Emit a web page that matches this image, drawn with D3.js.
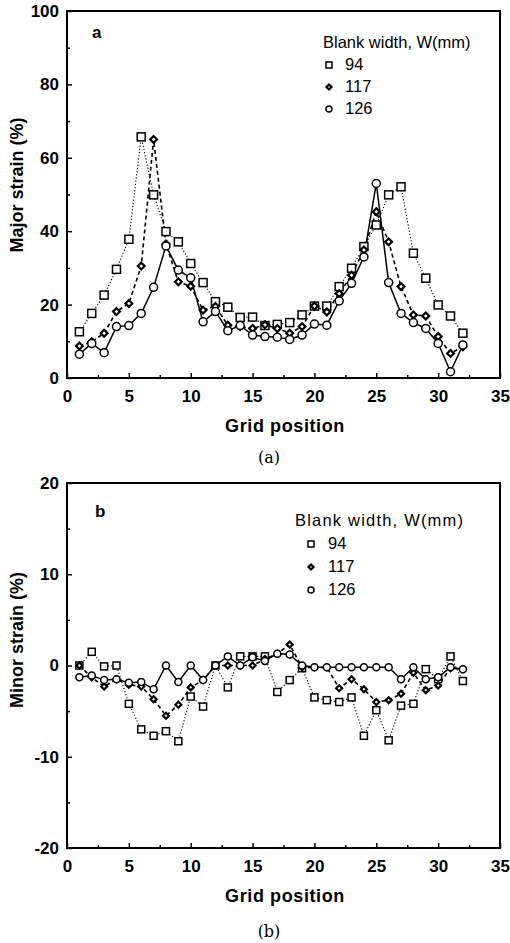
<!DOCTYPE html>
<html>
<head>
<meta charset="utf-8">
<script src="https://cdn.jsdelivr.net/npm/d3@7"></script>
<style>
  body { margin: 0; background: #fff; }
  svg { display: block; }
  text { fill: #000; }
  .tick text { font-family: "Liberation Sans", Arial, sans-serif; font-weight: bold; font-size: 17px; }
  .axis path { display: none; }
  .axis line { stroke: #000; stroke-width: 1.5; }
</style>
</head>
<body>
<div id="chart"></div>
<script>
// grid positions shared by both panels
var grid = [1, 2, 3, 4, 5, 6, 7, 8, 9, 10, 11, 12, 13, 14, 15, 16,
            17, 18, 19, 20, 21, 22, 23, 24, 25, 26, 27, 28, 29, 30, 31, 32];

// (a) major strain (%), by blank width
var major94  = [12.6, 17.6, 22.6, 29.6, 37.8, 65.7, 49.9, 39.9, 37.1, 31.2, 26.0, 20.8, 19.3, 16.5, 16.6, 14.3,
                14.6, 15.1, 17.2, 19.6, 19.6, 24.9, 29.9, 35.8, 41.7, 49.9, 52.1, 34.0, 27.2, 19.9, 16.9, 12.2];
var major117 = [8.7, 9.9, 12.2, 18.1, 20.3, 30.5, 65.0, 36.5, 26.2, 25.0, 18.5, 19.5, 14.4, 14.0, 13.5, 14.5,
                13.5, 12.2, 14.0, 19.6, 18.0, 23.0, 28.0, 34.9, 45.3, 37.1, 24.9, 17.2, 16.9, 11.3, 6.7, 8.5];
var major126 = [6.5, 9.4, 6.9, 14.0, 14.3, 17.6, 24.7, 36.0, 29.4, 27.3, 15.3, 18.1, 12.9, 14.3, 11.7, 11.3,
                11.1, 10.5, 11.7, 14.7, 14.4, 21.0, 25.8, 33.0, 53.0, 26.0, 17.6, 15.1, 13.5, 9.4, 1.7, 9.0];

// (b) minor strain (%), by blank width
var minor94  = [0, 1.5, -0.1, 0, -4.2, -7.0, -7.7, -7.2, -8.3, -3.4, -4.5, 0, -2.4, 1.0, 1.0, 1.0,
                -2.9, -1.6, -0.3, -3.5, -3.8, -4.0, -3.5, -7.7, -4.9, -8.2, -4.4, -4.2, -0.4, -1.5, 1.0, -1.7];
var minor117 = [0, -1.3, -2.3, -1.5, -2.1, -2.3, -3.7, -5.5, -4.3, -2.4, -1.6, 0, 0, 0, 0, 0.7,
                1.3, 2.3, -0.2, -0.2, -0.2, -2.5, -1.5, -2.6, -4.0, -3.8, -3.1, -0.8, -2.7, -2.2, -0.3, -0.4];
var minor126 = [-1.3, -1.1, -1.6, -1.5, -1.9, -1.8, -2.6, 0, -1.8, 0, -1.6, 0, 1.0, 0, 0.9, 0.5,
                1.3, 1.2, 0, -0.2, -0.2, -0.2, -0.2, -0.2, -0.2, -0.2, -1.5, -0.2, -1.5, -1.3, -0.2, -0.4];

var widths = ["94", "117", "126"];
var xTicks = [0, 5, 10, 15, 20, 25, 30, 35];
var xMinor = [2.5, 7.5, 12.5, 17.5, 22.5, 27.5, 32.5];
var majorTicks = [0, 20, 40, 60, 80, 100];
var majorMinor = [10, 30, 50, 70, 90];
var minorTicks = [-20, -10, 0, 10, 20];
var minorMinor = [-15, -5, 5, 15];

var font = '"Liberation Sans", Arial, sans-serif';

var svg = d3.select('#chart').append('svg')
    .attr('width', 510)
    .attr('height', 943);

var xScale = d3.scaleLinear().domain([0, 35]).range([67, 500]);

// plain hyphen minus like the original
var plain = function(d) { return String(d); };

// line styles: squares dotted, diamonds dashed, circles solid
var styles = [
  {shape: 'square', dash: '1.2,2', width: 1.1},
  {shape: 'diamond', dash: '4,3', width: 1.6},
  {shape: 'circle', dash: null, width: 1.5}
];

function marker(sel, shape, s) {
  if (shape === 'square') {
    sel.append('rect').attr('x', -s).attr('y', -s).attr('width', 2 * s).attr('height', 2 * s);
  } else if (shape === 'diamond') {
    var d = s * 0.85;
    sel.append('path').attr('d', `M0,${-d}L${d},0L0,${d}L${-d},0Z`).attr('stroke-width', 2.2);
  } else {
    sel.append('circle').attr('r', s);
  }
}

function panel(opt) {
  var yScale = d3.scaleLinear().domain(opt.domain).range([opt.bottom, opt.top]);
  var g = svg.append('g');

  // ticks (inward)
  g.append('g').attr('class', 'axis')
    .attr('transform', `translate(0,${opt.bottom})`)
    .call(d3.axisBottom(xScale).tickValues(xTicks).tickSize(-5).tickPadding(12).tickFormat(plain));
  g.append('g').attr('class', 'axis')
    .attr('transform', `translate(0,${opt.bottom})`)
    .call(d3.axisBottom(xScale).tickValues(xMinor).tickSize(-3).tickFormat(''));
  g.append('g').attr('class', 'axis')
    .attr('transform', `translate(67,0)`)
    .call(d3.axisLeft(yScale).tickValues(opt.ticks).tickSize(-5).tickPadding(8).tickFormat(plain));
  g.append('g').attr('class', 'axis')
    .attr('transform', `translate(67,0)`)
    .call(d3.axisLeft(yScale).tickValues(opt.minor).tickSize(-3).tickFormat(''));

  // frame
  g.append('rect')
    .attr('x', 67).attr('y', opt.top)
    .attr('width', 433).attr('height', opt.bottom - opt.top)
    .attr('fill', 'none').attr('stroke', '#000').attr('stroke-width', 2);

  var line = d3.line()
    .x(function(d, i) { return xScale(grid[i]); })
    .y(function(d) { return yScale(d); });

  opt.series.forEach(function(vals, k) {
    var st = styles[k];
    g.append('path')
      .datum(vals)
      .attr('d', line)
      .attr('fill', 'none')
      .attr('stroke', '#000')
      .attr('stroke-width', st.width)
      .attr('stroke-dasharray', st.dash);
  });

  opt.series.forEach(function(vals, k) {
    var st = styles[k];
    g.append('g').selectAll('g')
      .data(vals)
      .enter()
      .append('g')
      .attr('transform', function(d, i) { return `translate(${xScale(grid[i])},${yScale(d)})`; })
      .attr('fill', '#fff').attr('stroke', '#000').attr('stroke-width', 1.5)
      .each(function() { marker(d3.select(this), st.shape, opt.size); });
  });

  // panel letter
  g.append('text').attr('x', opt.letterX).attr('y', opt.letterY)
    .attr('font-family', font).attr('font-weight', 'bold').attr('font-size', 17)
    .text(opt.letter);

  // legend
  g.append('text').attr('x', opt.legX).attr('y', opt.legY)
    .attr('font-family', font).attr('font-size', 16.5)
    .attr('letter-spacing', opt.legSpacing)
    .text('Blank width, W(mm)');
  widths.forEach(function(w, k) {
    var y = opt.legY + opt.legStep * (k + 1);
    var m = g.append('g')
      .attr('transform', `translate(${opt.legX + opt.legMarkDx},${y - 5})`)
      .attr('fill', '#fff').attr('stroke', '#000').attr('stroke-width', 1.5);
    marker(m, styles[k].shape, 3);
    g.append('text').attr('x', opt.legX + opt.legTextDx).attr('y', y)
      .attr('font-family', font).attr('font-size', 16.5)
      .text(w);
  });

  // axis titles
  g.append('text')
    .attr('transform', `translate(23,${opt.yLabelY}) rotate(-90)`)
    .attr('text-anchor', 'middle')
    .attr('font-family', font).attr('font-weight', 'bold').attr('font-size', 18)
    .text(opt.yLabel);
  g.append('text')
    .attr('x', 285).attr('y', opt.bottom + 54)
    .attr('text-anchor', 'middle')
    .attr('font-family', font).attr('font-weight', 'bold').attr('font-size', 18)
    .attr('letter-spacing', 0.6)
    .text('Grid position');
  g.append('text')
    .attr('x', 269).attr('y', opt.bottom + opt.capDy)
    .attr('text-anchor', 'middle')
    .attr('font-family', '"DejaVu Serif", "Liberation Serif", serif').attr('font-size', 16)
    .text(opt.caption);
}

panel({
  domain: [0, 100], top: 11, bottom: 378,
  ticks: majorTicks, minor: majorMinor,
  series: [major94, major117, major126], size: 4,
  letter: 'a', letterX: 92, letterY: 38,
  legX: 323, legY: 48, legStep: 22, legMarkDx: 6, legTextDx: 22, legSpacing: 0,
  yLabel: 'Major strain (%)', yLabelY: 185,
  caption: '(a)', capDy: 85
});

panel({
  domain: [-20, 20], top: 483, bottom: 848,
  ticks: minorTicks, minor: minorMinor,
  series: [minor94, minor117, minor126], size: 3.5,
  letter: 'b', letterX: 95, letterY: 517,
  legX: 295, legY: 526, legStep: 23, legMarkDx: 16, legTextDx: 33, legSpacing: 1.2,
  yLabel: 'Minor strain (%)', yLabelY: 640,
  caption: '(b)', capDy: 89
});
</script>
</body>
</html>
